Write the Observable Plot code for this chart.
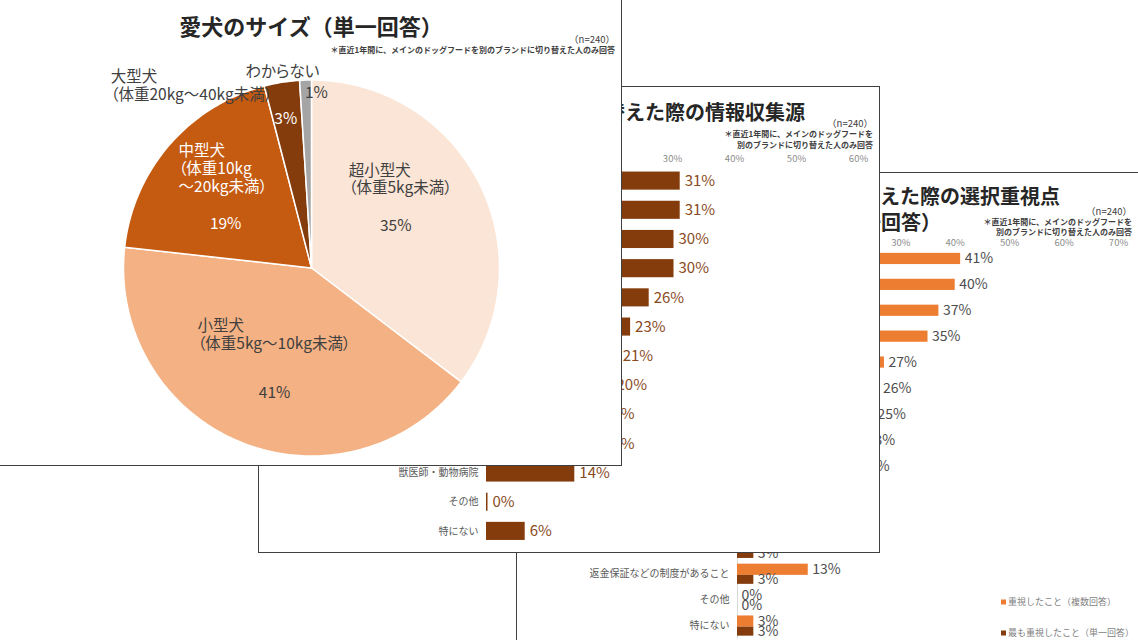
<!DOCTYPE html>
<html><head><meta charset="utf-8">
<script src="https://cdn.jsdelivr.net/npm/d3@7"></script>
<script src="https://cdn.jsdelivr.net/npm/@observablehq/plot@0.6"></script>
<style>
body{margin:0;background:#fff;width:1138px;height:640px;overflow:hidden;position:relative;font-family:"Noto Sans CJK JP","Noto Sans",sans-serif;}
.panel{position:absolute;background:#fff;border:1px solid #404040;box-sizing:border-box;overflow:hidden}
.panel svg{position:absolute;left:0;top:0}
#pa svg text{font-feature-settings:"palt"}
.t{position:absolute;white-space:nowrap;line-height:1}
</style></head><body>
<div id="pc" class="panel" style="left:516px;top:172px;width:640px;height:500px"></div>
<div id="pb" class="panel" style="left:258px;top:86px;width:622px;height:467px"></div>
<div id="pa" class="panel" style="left:-1px;top:-1px;width:623px;height:467px"></div>
<script>
const FONT = '"Noto Sans CJK JP","Noto Sans",sans-serif';

// ---- Panel A data: 愛犬のサイズ ----
const sizeCats = ["超小型犬","小型犬","中型犬","大型犬","わからない"];
const sizeNameLines = ["超小型犬\n（体重5kg未満）","小型犬\n（体重5kg～10kg未満）","中型犬\n（体重10kg\n～20kg未満）","大型犬\n（体重20kg～40kg未満）","わからない"];
const sizePct = [35,41,19,3,1];
const sizeColors = ["#FBE5D6","#F4B183","#C55A11","#843C0C","#A5A5A5"];

// ---- Panel B data: 情報収集源 ----
const infoCats = ["ペットショップの店頭","インターネット検索","ECサイトのレビュー","メーカーのホームページ","SNS","友人・知人の口コミ","動画サイト","テレビCM","ブログ","雑誌・チラシ","獣医師・動物病院","その他","特にない"];
const infoPct = [31,31,30,30,26,23,21,20,18,18,14,0,6];
const ticksB = [0,10,20,30,40,50,60];

// ---- Panel C data: 選択重視点 ----
const pointCats = ["原材料・成分","愛犬の食いつき","価格","栄養バランス","愛犬の健康状態に合っていること","国産であること","無添加であること","粒の大きさ・形状","メーカーの信頼性","口コミ・評判","購入のしやすさ","お試しサイズがあること","返金保証などの制度があること","その他","特にない"];
const pointMulti = [41,40,37,35,27,26,25,23,22,18,15,14,13,0,3];
const pointSingle = [20,12,15,10,8,5,6,4,3,2,3,3,3,0,3];
const seriesNames = ["重視したこと（複数回答）","最も重視したこと（単一回答）"];
const seriesColors = ["#ED7D31","#843C0C"];
const ticksC = [0,10,20,30,40,50,60,70];

function txt(panel, s, x, y, o = {}) {
  const {anchor="start", size=10, weight=400, color="#404040"} = o;
  const d = document.createElement("div");
  d.className = "t"; d.textContent = s;
  const tx = anchor === "end" ? "-100%" : anchor === "middle" ? "-50%" : "0";
  d.style.cssText += `left:${x}px;top:${y}px;font-size:${size}px;font-weight:${weight};color:${color};transform:translate(${tx},-50%)`;
  panel.appendChild(d);
  return d;
}

// ================= Panel C =================
const pc = document.getElementById("pc");
const pointData = pointCats.map((c,i)=>({cat:c, m:pointMulti[i], s:pointSingle[i]}));
pc.appendChild(Plot.plot({
  width:638, height:498, marginLeft:220, marginRight:37, marginTop:77, marginBottom:32.5,
  style:{fontFamily:FONT, fontSize:"10px", color:"#595959", background:"transparent", overflow:"visible"},
  x:{domain:[0,70]},
  y:{domain:pointCats, paddingInner:0.22, paddingOuter:0.11, round:false},
  marks:[
    Plot.axisX(ticksC,{anchor:"top", tickSize:0, tickPadding:5, tickFormat:d=>d+"%", fontSize:9.5, color:"#8c8c8c", label:null}),
    Plot.axisY({tickSize:0, tickPadding:8, fontSize:10, color:"#595959", label:null}),
    Plot.ruleX([0],{stroke:"#d9d9d9"}),
    Plot.barX(pointData,{x:"m", y:"cat", fill:seriesColors[0], insetBottom:9}),
    Plot.barX(pointData,{x:"s", y:"cat", fill:seriesColors[1], insetTop:11.2}),
    Plot.text(pointData,{x:"m", y:"cat", text:d=>d.m+"%", dx:4, dy:-4.5, textAnchor:"start", fill:"#4d4d4d", fontSize:14}),
    Plot.text(pointData,{x:"s", y:"cat", text:d=>d.s+"%", dx:4, dy:5.6, textAnchor:"start", fill:"#4d4d4d", fontSize:14})
  ]
}));
txt(pc, "ドッグフードのブランドを切り替えた際の選択重視点", 543, 23, {anchor:"end", size:20, weight:700, color:"#262626"});
txt(pc, "（複数回答・単一回答）", 424, 49, {anchor:"end", size:20, weight:700, color:"#262626"});
txt(pc, "（n=240）", 615, 39, {anchor:"end", size:9.5, color:"#404040"});
txt(pc, "＊直近1年間に、メインのドッグフードを", 615, 49, {anchor:"end", size:8, weight:700, color:"#404040"});
txt(pc, "別のブランドに切り替えた人のみ回答", 615, 59, {anchor:"end", size:8, weight:700, color:"#404040"});
seriesNames.forEach((n,i)=>{
  const d = txt(pc, "", 484, 428 + i*31, {size:9, color:"#7f7f7f"});
  d.innerHTML = `<span style="display:inline-block;width:5px;height:5px;background:${seriesColors[i]};margin-right:2px;vertical-align:middle"></span>${n}`;
});

// ================= Panel B =================
const pb = document.getElementById("pb");
const infoData = infoCats.map((c,i)=>({cat:c, v:infoPct[i]}));
pb.appendChild(Plot.plot({
  width:620, height:465, marginLeft:227, marginRight:21, marginTop:79, marginBottom:6.5,
  style:{fontFamily:FONT, fontSize:"10px", color:"#595959", background:"transparent", overflow:"visible"},
  x:{domain:[0,60]},
  y:{domain:infoCats, paddingInner:0.38, paddingOuter:0.19, round:false},
  marks:[
    Plot.axisX(ticksB,{anchor:"top", tickSize:0, tickPadding:5, tickFormat:d=>d+"%", fontSize:9.5, color:"#8c8c8c", label:null}),
    Plot.axisY({tickSize:0, tickPadding:8, fontSize:10, color:"#595959", label:null}),
    Plot.barX(infoData,{x:"v", y:"cat", fill:"#843C0C", insetRight:-1.5}),
    Plot.text(infoData,{x:"v", y:"cat", text:d=>d.v+"%", dx:6, textAnchor:"start", fill:"#8a4b1e", fontSize:15})
  ]
}));
txt(pb, "ドッグフードのブランドを切り替えた際の情報収集源", 546, 25, {anchor:"end", size:20, weight:700, color:"#262626"});
txt(pb, "（n=240）", 614, 37, {anchor:"end", size:9.5, color:"#404040"});
txt(pb, "＊直近1年間に、メインのドッグフードを", 614, 47, {anchor:"end", size:8, weight:700, color:"#404040"});
txt(pb, "別のブランドに切り替えた人のみ回答", 614, 58, {anchor:"end", size:8, weight:700, color:"#404040"});

// ================= Panel A (pie) =================
const pa = document.getElementById("pa");
const R = 188, CX = 311, CY = 267.5, W = 621, H = 465;
const sizeData = sizeCats.map((c,i)=>({cat:c, name:sizeNameLines[i], value:sizePct[i]}));
const arcs = d3.pie().sort(null).value(d=>d.value)(sizeData);
const piePts = arcs.flatMap(a=>{
  const n = Math.max(2, Math.ceil((a.endAngle - a.startAngle) / (Math.PI/180)));
  const pts = [{cat:a.data.cat, x:0, y:0}];
  for (let i = 0; i <= n; i++) {
    const t = a.startAngle + (a.endAngle - a.startAngle) * i / n;
    pts.push({cat:a.data.cat, x:Math.sin(t), y:Math.cos(t)});
  }
  return pts;
});
// label placement style (radial factor + pixel offsets)
const pieLabelLayout = [
  {k:0.5,  dx:0,   dy:0,    ndx:-47,  ndy:-47.5, pctWhite:false, nameWhite:false},
  {k:0.7,  dx:12,  dy:3,    ndx:-77,  ndy:-59,   pctWhite:false, nameWhite:false},
  {k:0.52, dx:-12, dy:20.5, ndx:-47,  ndy:-56,   pctWhite:true,  nameWhite:true},
  {k:0.8,  dx:-2,  dy:0,    ndx:-175, ndy:-34,   pctWhite:true,  nameWhite:false},
  {k:0.93, dx:10.5,dy:0,    ndx:-71,  ndy:-22,   pctWhite:false, nameWhite:false}
];
const pieLabels = arcs.map((a,i)=>{
  const L = pieLabelLayout[i], m = (a.startAngle + a.endAngle) / 2;
  const px = L.k*Math.sin(m) + L.dx/R, py = L.k*Math.cos(m) - L.dy/R;
  return {pct:a.data.value+"%", name:a.data.name, px, py,
          nx: px + L.ndx/R, ny: py - L.ndy/R, pctWhite:L.pctWhite, nameWhite:L.nameWhite};
});
pa.appendChild(Plot.plot({
  width:W, height:H, margin:0,
  style:{fontFamily:FONT, background:"transparent", overflow:"visible"},
  x:{domain:[-CX/R, (W-CX)/R], axis:null},
  y:{domain:[-(H-CY)/R, CY/R], axis:null},
  color:{domain:sizeCats, range:sizeColors},
  marks:[
    Plot.line(piePts,{x:"x", y:"y", z:"cat", fill:"cat", stroke:"white", strokeWidth:1.5, curve:"linear-closed"}),
    Plot.text(pieLabels.filter(d=>!d.nameWhite),{x:"nx", y:"ny", text:"name", textAnchor:"start", lineAnchor:"middle", lineHeight:1.15, fontSize:15.5, fill:"#404040"}),
    Plot.text(pieLabels.filter(d=>d.nameWhite),{x:"nx", y:"ny", text:"name", textAnchor:"start", lineAnchor:"middle", lineHeight:1.15, fontSize:15.5, fill:"white"}),
    Plot.text(pieLabels.filter(d=>!d.pctWhite),{x:"px", y:"py", text:"pct", textAnchor:"middle", fontSize:15.5, fill:"#404040"}),
    Plot.text(pieLabels.filter(d=>d.pctWhite),{x:"px", y:"py", text:"pct", textAnchor:"middle", fontSize:15.5, fill:"white"})
  ]
}));
txt(pa, "愛犬のサイズ（単一回答）", 311, 25, {anchor:"middle", size:22, weight:700, color:"#262626"});
txt(pa, "（n=240）", 615, 40, {anchor:"end", size:9.5, color:"#404040"});
txt(pa, "＊直近1年間に、メインのドッグフードを別のブランドに切り替えた人のみ回答", 615, 50, {anchor:"end", size:8, weight:700, color:"#404040"});
</script>
</body></html>
